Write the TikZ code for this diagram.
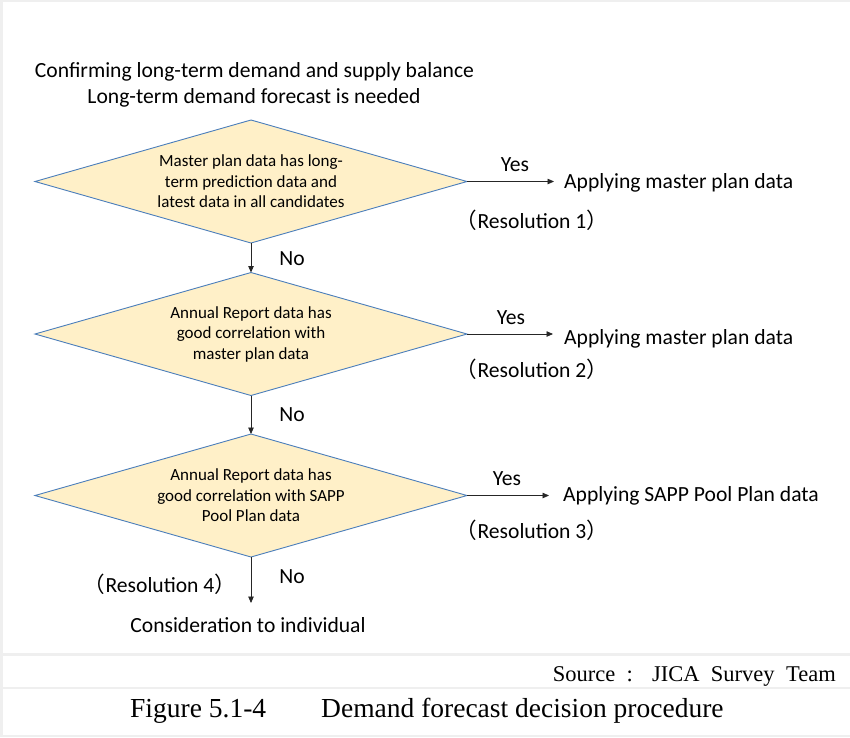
\documentclass[tikz,border=0pt]{standalone}
\usepackage{fontspec}
\setmainfont{Carlito}
\newfontfamily\serifface{Liberation Serif}
\newfontfamily\cjkface{Noto Sans CJK JP}
\usetikzlibrary{shapes.geometric,arrows.meta}
\definecolor{decfill}{HTML}{FFF0C8}
\definecolor{decedge}{HTML}{4A7EBB}
\definecolor{rulegray}{HTML}{EFEFEF}
% full-width parentheses around the resolution labels
\newcommand{\fwopen}{{\cjkface （}}
\newcommand{\fwclose}{{\cjkface ）}}

\begin{document}
\begin{tikzpicture}[x=1pt,y=-1pt,
  decision/.style={diamond, draw=decedge, line width=0.9pt, fill=decfill,
    minimum width=432pt, minimum height=123pt, shape aspect=3.5,
    inner sep=0pt, outer sep=0pt, align=center,
    font=\fontsize{17}{20.5}\selectfont},
  big/.style={font=\fontsize{21.6}{26}\selectfont, inner sep=0pt},
  flow/.style={draw=black!85, line width=0.8pt, -{Triangle[length=6.5pt,width=5.5pt]}},
]
\useasboundingbox (0,0) rectangle (850,737);
\fill[white] (0,0) rectangle (850,737);
% page frame and separator rules
\fill[rulegray] (0,0) rectangle (850,1.5);
\fill[rulegray] (0,0) rectangle (2.5,737);
\fill[rulegray] (0,653) rectangle (850,655.5);
\fill[rulegray] (0,686.5) rectangle (850,689);
\fill[rulegray] (0,734.5) rectangle (850,737);

% heading
\node[big] (t1) at (254.5,72) {Confirming long-term demand and supply balance};
\node[big] (t2) at (254,98) {Long-term demand forecast is needed};

% decisions
\node[decision] (d1) at (251,181.5) {Master plan data has long-\\term prediction data and\\latest data in all candidates};
\node[decision] (d2) at (251,334) {Annual Report data has\\good correlation with\\master plan data};
\node[decision] (d3) at (251,495.5) {Annual Report data has\\good correlation with SAPP\\Pool Plan data};

% outcomes
\node[big, anchor=west, inner xsep=10pt] (a1) at (554,183) {Applying master plan data};
\node[big, anchor=west, inner xsep=11pt] (a2) at (553,339) {Applying master plan data};
\node[big, anchor=west, inner xsep=14pt] (a3) at (549,496) {Applying SAPP Pool Plan data};
\node[big] (a4) at (248,625) {Consideration to individual};
\coordinate (e4) at (251,603);

% answers
\node[big] (y1) at (515,165) {Yes};
\node[big] (y2) at (511,318) {Yes};
\node[big] (y3) at (507,479) {Yes};
\node[big] (n1) at (292,259) {No};
\node[big] (n2) at (292,415) {No};
\node[big] (n3) at (292,577) {No};

% resolutions
\node[big] (r1) at (532,220) {\fwopen Resolution 1\fwclose};
\node[big] (r2) at (532,369) {\fwopen Resolution 2\fwclose};
\node[big] (r3) at (532,530) {\fwopen Resolution 3\fwclose};
\node[big] (r4) at (160,584) {\fwopen Resolution 4\fwclose};

% connectors
\draw[flow] (d1.south) -- (d2.north);
\draw[flow] (d2.south) -- (d3.north);
\draw[flow] (d3.south) -- (e4);
\draw[flow] (d1.east) -- (d1.east -| a1.west);
\draw[flow] (d2.east) -- (d2.east -| a2.west);
\draw[flow] (d3.east) -- (d3.east -| a3.west);

% source and caption
\node[font=\serifface\fontsize{22.5}{26}\selectfont, anchor=base east, inner sep=0pt] (src) at (836,681)
  {\makebox[283pt][s]{Source : JICA Survey Team}};
\node[font=\serifface\fontsize{27.5}{32}\selectfont, anchor=base west, inner sep=0pt] (fig) at (130,717) {Figure 5.1-4};
\node[font=\serifface\fontsize{27.5}{32}\selectfont, anchor=base west, inner sep=0pt] (cap) at (321,717) {Demand forecast decision procedure};
\end{tikzpicture}
\end{document}
